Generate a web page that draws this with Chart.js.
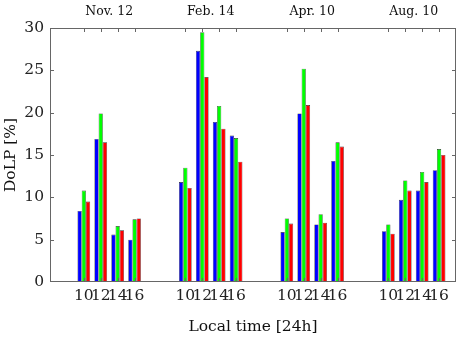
<!DOCTYPE html>
<html>
<head>
<meta charset="utf-8">
<script src="https://cdn.jsdelivr.net/npm/chart.js@4"></script>
<style>
  html, body { margin: 0; padding: 0; background: #fff; }
  #wrap { width: 459px; height: 340px; }
</style>
</head>
<body>
<div id="wrap"><canvas id="bar-chart"></canvas></div>
<script>
// dates (groups) and local times inside each group
var groups = ['Nov. 12', 'Feb. 14', 'Apr. 10', 'Aug. 10'];
var times = ['10', '12', '14', '16'];

// DoLP [%] per group, in time order 10,12,14,16
var blueVals = [
    [8.4, 16.9, 5.6, 5.0],
    [11.8, 27.3, 18.9, 17.3],
    [5.9, 19.9, 6.8, 14.3],
    [6.0, 9.7, 10.8, 13.2]
];
var greenVals = [
    [10.8, 19.9, 6.6, 7.4],
    [13.5, 29.5, 20.8, 17.0],
    [7.5, 25.2, 8.0, 16.5],
    [6.8, 12.0, 13.0, 15.7]
];
var redVals = [
    [9.5, 16.5, 6.1, 7.5],
    [11.1, 24.2, 18.1, 14.2],
    [6.9, 20.9, 7.0, 16.0],
    [5.7, 10.8, 11.8, 15.0]
];
var yTicks = [0, 5, 10, 15, 20, 25, 30];

// build the category slots: two empty slots before each group, one at the end
var labels = [];
function flat(vals) {
    var out = [];
    vals.forEach(function (g) {
        out.push(null, null);
        g.forEach(function (v) { out.push(v); });
    });
    out.push(null);
    return out;
}
groups.forEach(function () {
    labels.push('', '');
    times.forEach(function (t) { labels.push(t); });
});
labels.push('');
var nSlots = labels.length - 1;
var groupCenters = groups.map(function (g, i) { return 3.5 + 6 * i; });
var timeIdx = [];
labels.forEach(function (l, i) { if (l !== '') timeIdx.push(i); });

var serif = 'DejaVu Serif';

// box with inward tick marks, like the original plot
var frame = {
    id: 'frame',
    afterDraw: function (chart) {
        var c = chart.ctx, a = chart.chartArea;
        var y = chart.scales.y, x = chart.scales.x;
        c.save();
        c.strokeStyle = '#666';
        c.lineWidth = 1;
        c.strokeRect(a.left + 0.5, a.top + 0.5, a.right - a.left - 1, a.bottom - a.top - 1);
        c.beginPath();
        yTicks.slice(1, -1).forEach(function (v) {
            var p = Math.round(y.getPixelForValue(v)) + 0.5;
            c.moveTo(a.left, p); c.lineTo(a.left + 4, p);
            c.moveTo(a.right, p); c.lineTo(a.right - 4, p);
        });
        timeIdx.forEach(function (i) {
            var p = Math.round(x.getPixelForValue(i)) + 0.5;
            c.moveTo(p, a.top); c.lineTo(p, a.top + 4);
            c.moveTo(p, a.bottom); c.lineTo(p, a.bottom - 4);
        });
        c.stroke();
        c.restore();
    }
};

var noGrid = { display: false, drawTicks: false };

// fix axis sizes so the plot box lands where the original one is
function fixH(h) {
    return function (axis) { axis.height = h; axis.paddingLeft = 0; axis.paddingRight = 0; };
}

var ctx = document.getElementById('bar-chart').getContext('2d');
var myChart = new Chart(ctx, {
    type: 'bar',
    data: {
        labels: labels,
        datasets: [
            { data: flat(blueVals), backgroundColor: '#0000ff' },
            { data: flat(greenVals), backgroundColor: '#00ff00' },
            { data: flat(redVals), backgroundColor: '#ff0000' }
        ].map(function (d) {
            d.borderColor = '#333';
            d.borderWidth = 0.6;
            d.borderSkipped = 'bottom';
            d.categoryPercentage = 0.75;
            d.barPercentage = 1.0;
            d.skipNull = false;
            return d;
        })
    },
    options: {
        responsive: true,
        maintainAspectRatio: false,
        animation: false,
        layout: { padding: { left: 2, right: 3, top: 0, bottom: 0 } },
        plugins: { legend: { display: false }, tooltip: { enabled: false } },
        scales: {
            x: {
                type: 'category',
                offset: false,
                grid: noGrid,
                border: { display: false },
                afterFit: fixH(58),
                ticks: {
                    autoSkip: false, maxRotation: 0, padding: 5,
                    color: '#222', font: { family: serif, size: 15.5 }
                },
                title: {
                    display: true, text: 'Local time [24h]', color: '#111',
                    font: { family: serif, size: 15.5 }, padding: { top: 8, bottom: 4 }
                }
            },
            xTop: {
                type: 'linear',
                position: 'top',
                offset: false,
                min: 0,
                max: nSlots,
                grid: noGrid,
                border: { display: false },
                afterFit: fixH(28),
                afterBuildTicks: function (axis) {
                    axis.ticks = groupCenters.map(function (v) { return { value: v }; });
                },
                ticks: {
                    autoSkip: false, maxRotation: 0, padding: 9,
                    color: '#111', font: { family: serif, size: 12.5 },
                    callback: function (v, i) { return groups[i]; }
                }
            },
            y: {
                min: 0,
                max: 30,
                grid: noGrid,
                border: { display: false },
                afterFit: function (axis) { axis.width = 48; axis.paddingTop = 0; axis.paddingBottom = 0; },
                afterBuildTicks: function (axis) {
                    axis.ticks = yTicks.map(function (v) { return { value: v }; });
                },
                ticks: { padding: 6, color: '#222', font: { family: serif, size: 15.5 } },
                title: {
                    display: true, text: 'DoLP [%]', color: '#111',
                    font: { family: serif, size: 15.5 }, padding: { top: 0, bottom: 6 }
                }
            }
        }
    },
    plugins: [frame]
});
</script>
</body>
</html>
